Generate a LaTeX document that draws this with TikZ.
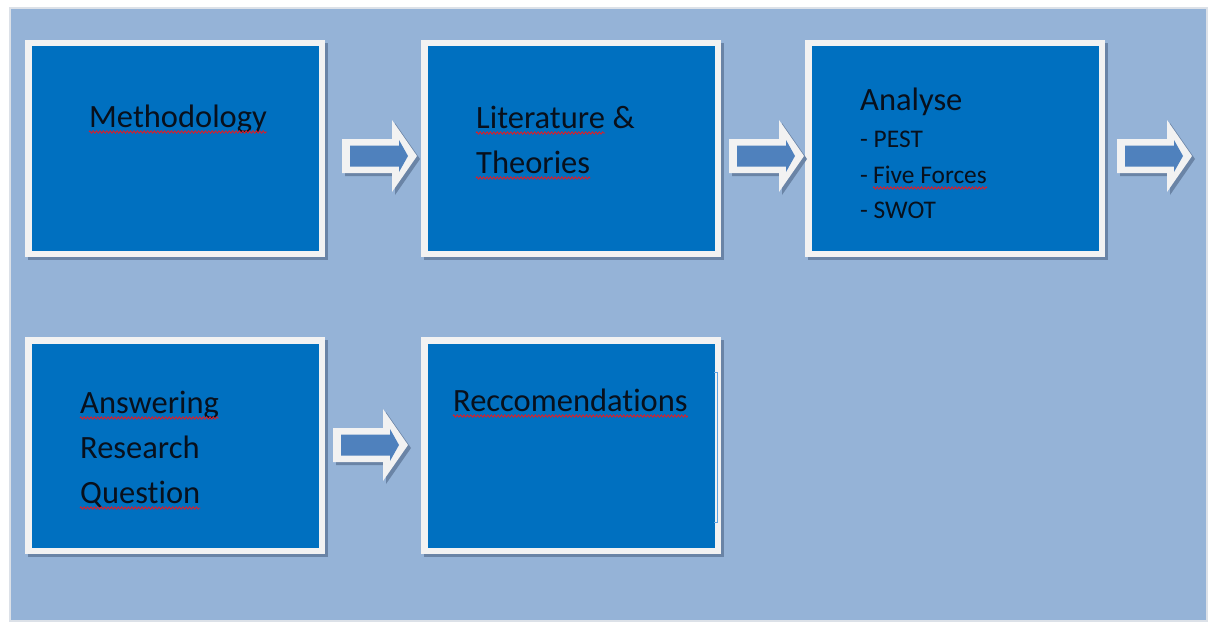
\documentclass[tikz,border=0pt]{standalone}
\usepackage{fontspec}
\setmainfont{Carlito}[Ligatures={NoCommon}]
\usetikzlibrary{decorations.pathmorphing}
\definecolor{panel}{HTML}{95B3D7}
\definecolor{panelrim}{HTML}{DCE1E8}
\definecolor{boxblue}{HTML}{0070C0}
\definecolor{frame}{HTML}{F2F2F2}
\definecolor{arrowblue}{HTML}{4F81BD}
\definecolor{shade}{HTML}{6A84A6}
\definecolor{spell}{HTML}{D8202A}
\definecolor{txt}{HTML}{08101C}
\definecolor{rimline}{HTML}{5FA3E0}
\tikzset{
  stagebox/.style={fill=boxblue, draw=frame, line width=6.5pt, minimum width=293.5pt, minimum height=210.5pt, inner sep=0pt},
  bigtext/.style={font=\fontsize{32.5}{40}\selectfont, text=txt, inner sep=0pt, anchor=base west},
  smalltext/.style={font=\fontsize{25.4}{30}\selectfont, text=txt, inner sep=0pt, anchor=base west},
  spellline/.style={draw=spell, line width=0.9pt, decorate, decoration={zigzag, segment length=3.4pt, amplitude=1.1pt}},
  arrowouter/.style={fill=frame},
  arrowinner/.style={fill=arrowblue},
  shadowfill/.style={fill=shade},
}
\newcommand\blockarr[2]{%
  \fill[shadowfill, shift={(#1+3,#2+3)}] (0,-17)--(50,-17)--(50,-36)--(75,0)--(50,36)--(50,17)--(0,17)--cycle;
  \fill[arrowouter, shift={(#1,#2)}] (0,-17)--(50,-17)--(50,-36)--(75,0)--(50,36)--(50,17)--(0,17)--cycle;
  \fill[arrowinner, shift={(#1,#2)}] (8,-10.5)--(57,-10.5)--(57,-16)--(66,0)--(57,16)--(57,10.5)--(8,10.5)--cycle;
}
\newcommand\spellmark[1]{\draw[spellline] ([yshift=-5pt]#1.base west) -- ([yshift=-5pt]#1.base east);}
\begin{document}
\begin{tikzpicture}[x=1pt, y=-1pt]
\useasboundingbox (0,0) rectangle (1209,626);
\fill[white] (0,0) rectangle (1209,626);
\filldraw[fill=panel, draw=panelrim, line width=1.5pt] (10,8) rectangle (1207,621);

% shadows of boxes
\foreach \x/\y in {25/40, 421/40, 805/40, 25/337, 421/337}
  \fill[shadowfill] (\x+3,\y+3) rectangle (\x+303,\y+220);

% boxes
\node[stagebox] (b1) at (175,148.5) {};
\node[stagebox] (b2) at (571,148.5) {};
\node[stagebox] (b3) at (955,148.5) {};
\node[stagebox] (b4) at (175,445.5) {};
\node[stagebox] (b5) at (571,445.5) {};
\draw[rimline, line width=0.8pt] (714,372) -- (717.5,372) -- (717.5,522) -- (714,522);

% block arrows
\blockarr{342}{156}
\blockarr{729}{156}
\blockarr{1117}{156}
\blockarr{333}{445}

% texts
\node[bigtext] (t1) at (89,127) {Methodology};
\node[bigtext] (t2a) at (476,128) {Literature};
\node[bigtext, xshift=7.3pt] (t2b) at (t2a.base east) {\&};
\node[bigtext] (t2c) at (476,173) {Theories};
\node[bigtext] (t3) at (860,110) {Analyse};
\node[smalltext] (t3a) at (860,147) {- PEST};
\node[smalltext] (t3b) at (860,183) {-};
\node[smalltext] (t3c) at (873,183) {Five Forces};
\node[smalltext] (t3d) at (860,218) {- SWOT};
\node[bigtext] (t4a) at (80,413) {Answering};
\node[bigtext] (t4b) at (80,458) {Research};
\node[bigtext] (t4c) at (80,503) {Question};
\node[bigtext] (t5) at (453,411) {Reccomendations};

\spellmark{t1}
\spellmark{t2a}
\spellmark{t2c}
\spellmark{t3c}
\spellmark{t4a}
\spellmark{t4c}
\spellmark{t5}
\end{tikzpicture}
\end{document}
